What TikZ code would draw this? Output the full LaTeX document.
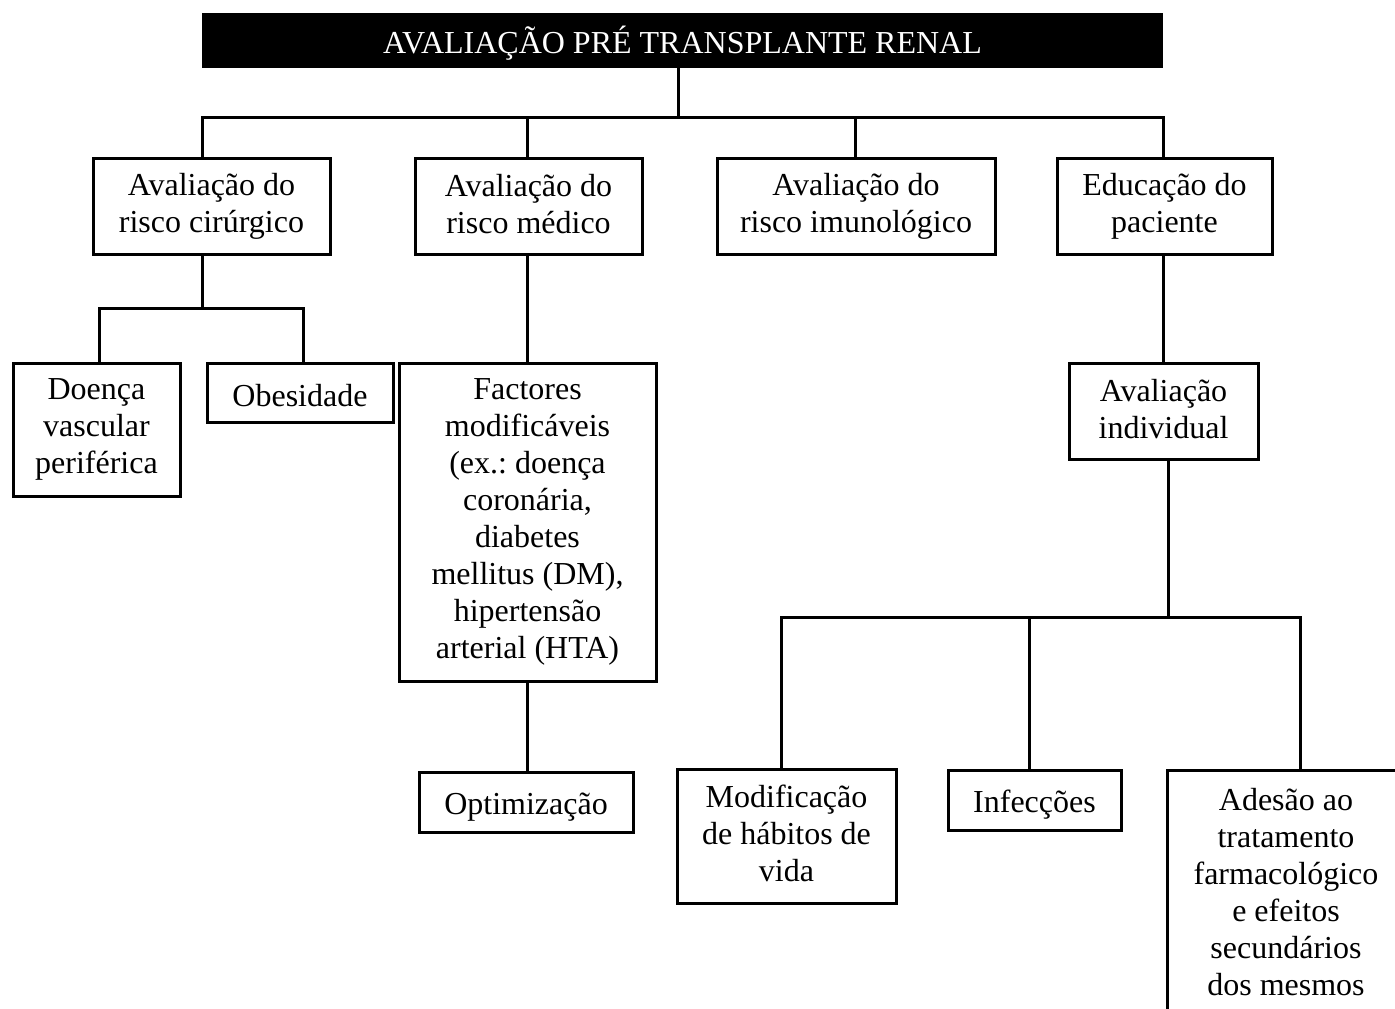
\documentclass[tikz,border=0pt]{standalone}
\usepackage{fontspec}
\setmainfont{Liberation Serif}
\newcommand{\mystrut}{\rule[-5pt]{0pt}{37pt}}
\tikzset{
  box/.style={draw=black, line width=3pt, fill=white, inner sep=0pt, align=center,
    font=\fontsize{32}{37}\selectfont\frenchspacing,
    execute at begin node=\mystrut, execute at end node=\mystrut},
  titlebox/.style={fill=black, text=white, inner sep=0pt, align=center,
    font=\fontsize{32}{37}\selectfont,
    execute at begin node=\mystrut, execute at end node=\mystrut},
  conn/.style={line width=3pt, line join=miter, line cap=rect}
}
\begin{document}
\begin{tikzpicture}[x=1pt,y=-1pt]
\useasboundingbox (0,0) rectangle (1395,1009);
\clip (0,0) rectangle (1395,1009);
\fill[white] (0,0) rectangle (1395,1009);

% nodes
\node[titlebox, minimum width=961pt, minimum height=55pt] (title) at (682.5,40.5) {AVALIAÇÃO PRÉ TRANSPLANTE RENAL};

\node[box, minimum width=237pt, minimum height=96pt] (b1) at (211.5,206) {Avaliação do\\risco cirúrgico};
\node[box, minimum width=227pt, minimum height=96pt] (b2) at (528.5,206) {Avaliação do\\risco médico};
\node[box, minimum width=278pt, minimum height=96pt] (b3) at (856,206) {Avaliação do\\risco imunológico};
\node[box, minimum width=215pt, minimum height=96pt] (b4) at (1164.5,206) {Educação do\\paciente};

\node[box, minimum width=167pt, minimum height=133pt] (doenca) at (96.5,429.5) {Doença\\vascular\\periférica};
\node[box, minimum width=186pt, minimum height=59pt] (obes) at (300,392.5) {Obesidade};
\node[box, minimum width=257pt, minimum height=318pt] (fact) at (527.5,522) {Factores\\modificáveis\\(ex.: doença\\coronária,\\diabetes\\mellitus (DM),\\hipertensão\\arterial (HTA)};
\node[box, minimum width=214pt, minimum height=60pt] (opt) at (526,802) {Optimização};

\node[box, minimum width=189pt, minimum height=96pt] (avind) at (1163.5,411) {Avaliação\\individual};
\node[box, minimum width=219pt, minimum height=134pt] (modif) at (786.5,836) {Modificação\\de hábitos de\\vida};
\node[box, minimum width=173pt, minimum height=60pt] (infec) at (1034.5,800) {Infecções};
\node[box, minimum width=238pt, minimum height=248pt] (ades) at (1286,894) {Adesão ao\\tratamento\\farmacológico\\e efeitos\\secundários\\dos mesmos};

% junction coordinates
\coordinate (j0) at (678,117);
\coordinate (c1) at (202,117);
\coordinate (c2) at (527,117);
\coordinate (c3) at (855,117);
\coordinate (c4) at (1163,117);
\coordinate (d0) at (202,308);
\coordinate (d1) at (99,308);
\coordinate (d2) at (303,308);
\coordinate (e0) at (1168,617);
\coordinate (e1) at (781,617);
\coordinate (e2) at (1029,617);
\coordinate (e3) at (1300,617);

% connectors
\draw[conn] (title.south -| j0) -- (j0);
\draw[conn] (c1 |- b1.north) -- (c1) -- (c4) -- (c4 |- b4.north);
\draw[conn] (c2) -- (c2 |- b2.north);
\draw[conn] (c3) -- (c3 |- b3.north);

\draw[conn] (d0 |- b1.south) -- (d0);
\draw[conn] (d1 |- doenca.north) -- (d1) -- (d2) -- (d2 |- obes.north);

\draw[conn] (c2 |- b2.south) -- (c2 |- fact.north);
\draw[conn] (fact.south) -- (fact.south |- opt.north);

\draw[conn] (c4 |- b4.south) -- (c4 |- avind.north);
\draw[conn] (e0 |- avind.south) -- (e0);
\draw[conn] (e1 |- modif.north) -- (e1) -- (e3) -- (e3 |- ades.north);
\draw[conn] (e2) -- (e2 |- infec.north);
\end{tikzpicture}
\end{document}
